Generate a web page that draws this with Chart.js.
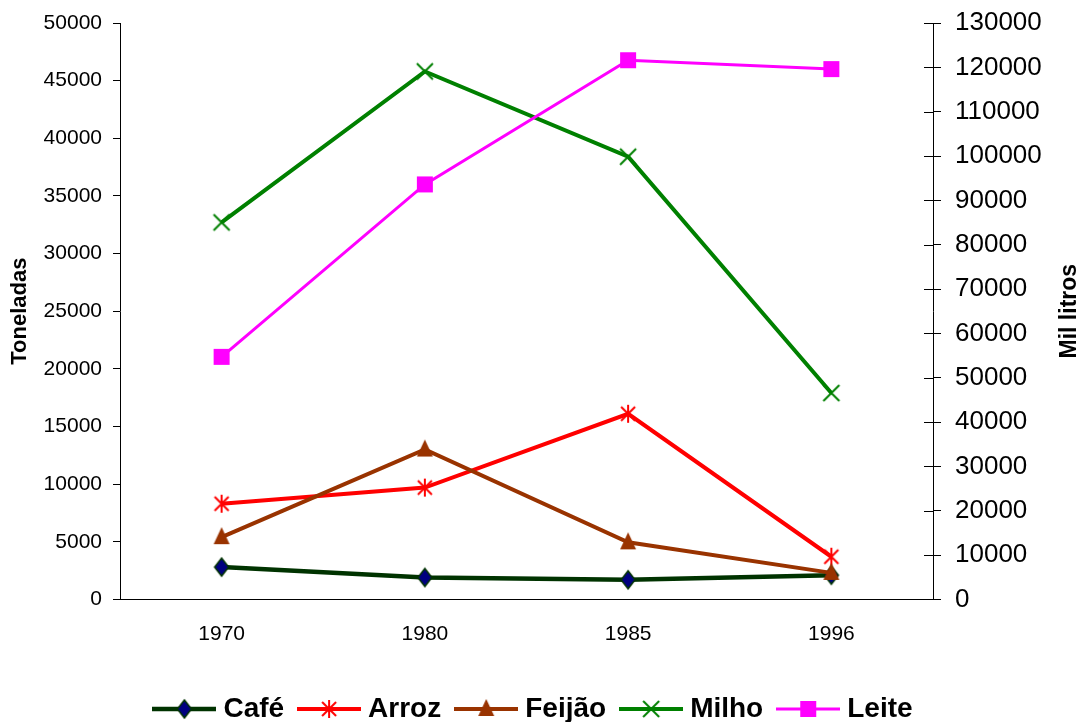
<!DOCTYPE html>
<html>
<head>
<meta charset="utf-8">
<title>Produção agropecuária</title>
<script src="https://cdn.jsdelivr.net/npm/chart.js@4"></script>
<style>
  html, body { margin: 0; padding: 0; background: #ffffff; }
  canvas { display: block; }
</style>
</head>
<body>
<canvas id="chart" width="1090" height="722"></canvas>
<script>
// Anos do levantamento
const years = ['1970', '1980', '1985', '1996'];

// Produção em toneladas (eixo esquerdo)
const cafe   = [2800, 1900, 1700, 2100];
const arroz  = [8300, 9700, 16100, 3700];
const feijao = [5400, 13000, 4950, 2300];
const milho  = [32700, 45800, 38400, 17900];

// Produção de leite em mil litros (eixo direito)
const leite  = [54700, 93600, 121600, 119600];

// Faixas dos eixos
const toneladasMin = 0, toneladasMax = 50000, toneladasStep = 5000;
const litrosMin = 0, litrosMax = 130000, litrosStep = 10000;

const FONT = "'Liberation Sans', Arial, Helvetica, sans-serif";
Chart.defaults.font.family = FONT;
Chart.defaults.color = '#000000';

// Marcadores desenhados em canvas pequenos
function drawShape(g, kind, cx, cy) {
  g.save();
  if (kind === 'diamond') {
    g.beginPath();
    g.moveTo(cx, cy - 9); g.lineTo(cx + 7, cy); g.lineTo(cx, cy + 9); g.lineTo(cx - 7, cy);
    g.closePath();
    g.fillStyle = '#000080'; g.fill();
    g.lineWidth = 1.5; g.strokeStyle = '#003300'; g.stroke();
  } else if (kind === 'star') {
    g.strokeStyle = '#ff0000'; g.lineWidth = 2; g.lineCap = 'butt';
    g.beginPath();
    g.moveTo(cx - 7, cy - 7); g.lineTo(cx + 7, cy + 7);
    g.moveTo(cx + 7, cy - 7); g.lineTo(cx - 7, cy + 7);
    g.moveTo(cx, cy - 9); g.lineTo(cx, cy + 9);
    g.stroke();
  } else if (kind === 'triangle') {
    g.beginPath();
    g.moveTo(cx, cy - 10); g.lineTo(cx + 8, cy + 7); g.lineTo(cx - 8, cy + 7);
    g.closePath();
    g.fillStyle = '#993300'; g.fill();
  } else if (kind === 'cross') {
    g.strokeStyle = '#008000'; g.lineWidth = 2;
    g.beginPath();
    g.moveTo(cx - 8, cy - 8); g.lineTo(cx + 8, cy + 8);
    g.moveTo(cx + 8, cy - 8); g.lineTo(cx - 8, cy + 8);
    g.stroke();
  } else if (kind === 'square') {
    g.fillStyle = '#ff00ff';
    g.fillRect(cx - 8, cy - 8, 16, 16);
  }
  g.restore();
}

function pointImage(kind) {
  const c = document.createElement('canvas');
  c.width = 22; c.height = 22;
  drawShape(c.getContext('2d'), kind, 11, 11);
  return c;
}

function legendImage(kind, color, width) {
  const c = document.createElement('canvas');
  c.width = 64; c.height = 24;
  const g = c.getContext('2d');
  g.strokeStyle = color; g.lineWidth = width;
  g.beginPath(); g.moveTo(0, 12); g.lineTo(64, 12); g.stroke();
  drawShape(g, kind, 32, 12);
  return c;
}

const styles = [
  { label: 'Café',   data: cafe,   color: '#003300', width: 4.5, kind: 'diamond',  axis: 'y'  },
  { label: 'Arroz',  data: arroz,  color: '#ff0000', width: 4,   kind: 'star',     axis: 'y'  },
  { label: 'Feijão', data: feijao, color: '#993300', width: 4,   kind: 'triangle', axis: 'y'  },
  { label: 'Milho',  data: milho,  color: '#008000', width: 4,   kind: 'cross',    axis: 'y'  },
  { label: 'Leite',  data: leite,  color: '#ff00ff', width: 3,   kind: 'square',   axis: 'y1' }
];

const datasets = styles.map((s, i) => ({
  label: s.label,
  data: s.data,
  yAxisID: s.axis,
  borderColor: s.color,
  backgroundColor: s.color,
  borderWidth: s.width,
  tension: 0,
  pointStyle: pointImage(s.kind),
  legendStyle: legendImage(s.kind, s.color, s.width),
  pointRadius: 8,
  order: styles.length - i
}));

// Pequenos traços internos do eixo direito (cruzam a linha do eixo)
const innerTicks = {
  id: 'innerTicks',
  afterDraw(chart) {
    const sc = chart.scales.y1;
    const ctx = chart.ctx;
    ctx.save();
    ctx.strokeStyle = '#000000';
    ctx.lineWidth = 1;
    ctx.beginPath();
    sc.ticks.forEach((t, i) => {
      const y = Math.round(sc.getPixelForTick(i)) + 0.5;
      ctx.moveTo(sc.left - 9, y);
      ctx.lineTo(sc.left, y);
    });
    ctx.stroke();
    ctx.restore();
  }
};

// Título do eixo direito, lido de baixo para cima
const rightTitle = {
  id: 'rightTitle',
  afterDraw(chart) {
    const sc = chart.scales.y1;
    const ctx = chart.ctx;
    ctx.save();
    ctx.translate(sc.right - 20, (sc.top + sc.bottom) / 2);
    ctx.rotate(-Math.PI / 2);
    ctx.font = "bold 23px " + FONT;
    ctx.fillStyle = '#000000';
    ctx.textAlign = 'center';
    ctx.textBaseline = 'middle';
    ctx.fillText('Mil litros', 0, 0);
    ctx.restore();
  }
};

// Legenda um pouco abaixo e à esquerda da posição padrão
const legendShift = {
  id: 'legendShift',
  afterLayout(chart) {
    const lg = chart.legend;
    if (!lg) return;
    const dx = -9, dy = 11;
    lg.left += dx; lg.right += dx;
    lg.top += dy; lg.bottom += dy;
  }
};

// Eixos verticais sem folga extra acima/abaixo dos rótulos extremos
function fitVertical(width) {
  return function (scale) {
    scale.width = width;
    scale.paddingTop = 0;
    scale.paddingBottom = 0;
  };
}

new Chart(document.getElementById('chart'), {
  type: 'line',
  data: { labels: years, datasets },
  options: {
    responsive: false,
    animation: false,
    devicePixelRatio: 1,
    layout: { padding: { top: 23, left: 0, right: 0, bottom: 0 } },
    plugins: {
      tooltip: { enabled: false },
      legend: {
        position: 'bottom',
        labels: {
          usePointStyle: true,
          pointStyleWidth: 50,
          boxHeight: 24,
          padding: 20,
          color: '#000000',
          font: { size: 28, weight: 'bold', family: FONT },
          sort: (a, b) => a.datasetIndex - b.datasetIndex,
          generateLabels(chart) {
            return chart.data.datasets.map((ds, i) => ({
              text: ds.label,
              pointStyle: ds.legendStyle,
              fillStyle: ds.borderColor,
              strokeStyle: ds.borderColor,
              lineWidth: 0,
              hidden: false,
              datasetIndex: i,
              fontColor: '#000000'
            }));
          }
        }
      }
    },
    scales: {
      x: {
        offset: true,
        grid: { display: false, drawTicks: false },
        border: { display: true, color: '#000000', width: 1 },
        ticks: { padding: 22, font: { size: 21 }, color: '#000000', maxRotation: 0 },
        afterFit(scale) { scale.height = 64.6; }
      },
      y: {
        position: 'left',
        min: toneladasMin,
        max: toneladasMax,
        grid: { drawOnChartArea: false, color: '#000000', tickLength: 7, lineWidth: 1 },
        border: { display: true, color: '#000000', width: 1 },
        ticks: { stepSize: toneladasStep, padding: 11, font: { size: 21 }, color: '#000000',
                 callback: v => String(v) },
        title: { display: true, text: 'Toneladas', font: { size: 22, weight: 'bold' },
                 color: '#000000', padding: { top: 7, bottom: 0 } },
        afterFit: fitVertical(120)
      },
      y1: {
        position: 'right',
        min: litrosMin,
        max: litrosMax,
        grid: { drawOnChartArea: false, color: '#000000', tickLength: 8, lineWidth: 1 },
        border: { display: true, color: '#000000', width: 1 },
        ticks: { stepSize: litrosStep, padding: 14, font: { size: 26 }, color: '#000000',
                 callback: v => String(v) },
        afterFit: fitVertical(157)
      }
    }
  },
  plugins: [innerTicks, rightTitle, legendShift]
});
</script>
</body>
</html>
